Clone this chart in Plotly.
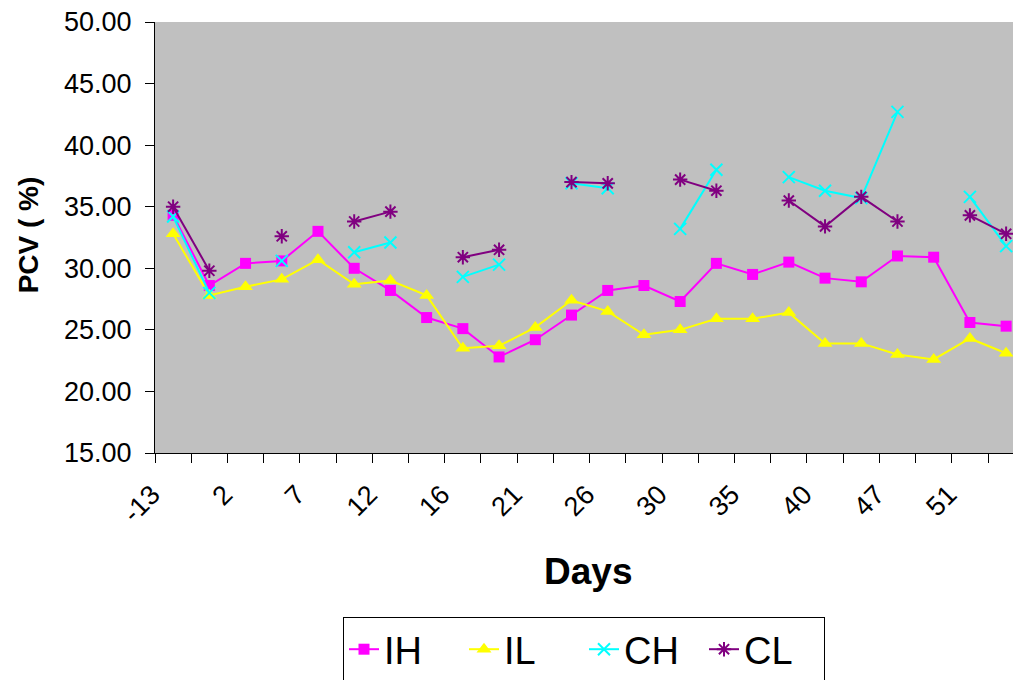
import plotly.graph_objects as go

days = ["-13", "0", "2", "5", "7", "9", "12", "14", "16", "19", "21", "23",
        "26", "28", "30", "33", "35", "37", "40", "44", "47", "49", "51", "54"]
shown_labels = ["-13", "", "2", "", "7", "", "12", "", "16", "", "21", "",
                "26", "", "30", "", "35", "", "40", "", "47", "", "51", ""]

IH = [34.3, 28.6, 30.4, 30.6, 33.0, 30.0, 28.2, 26.0, 25.1, 22.8, 24.2, 26.2,
      28.2, 28.6, 27.3, 30.4, 29.5, 30.5, 29.2, 28.9, 31.0, 30.9, 25.6, 25.3]
IL = [32.8, 27.8, 28.5, 29.1, 30.7, 28.7, 29.0, 27.8, 23.5, 23.7, 25.2, 27.4,
      26.5, 24.6, 25.0, 25.9, 25.9, 26.4, 23.9, 23.9, 23.0, 22.6, 24.3, 23.1]
CH = [34.2, 28.0, None, 30.6, None, 31.3, 32.1, None, 29.3, 30.3, None, 36.9,
      36.5, None, 33.2, 38.0, None, 37.4, 36.3, 35.7, 42.7, None, 35.8, 31.8]
CL = [35.0, 29.8, None, 32.6, None, 33.8, 34.6, None, 30.9, 31.5, None, 37.0,
      36.9, None, 37.2, 36.3, None, 35.5, 33.4, 35.8, 33.8, None, 34.3, 32.8]

FONT = "Arial, Liberation Sans, sans-serif"

fig = go.Figure()
fig.add_trace(go.Scatter(x=days, y=IH, name="IH", mode="lines+markers",
                         line=dict(color="#FF00FF", width=2),
                         marker=dict(symbol="square", size=11, color="#FF00FF")))
fig.add_trace(go.Scatter(x=days, y=IL, name="IL", mode="lines+markers",
                         line=dict(color="#FFFF00", width=2),
                         marker=dict(symbol="triangle-up", size=13, color="#FFFF00")))
fig.add_trace(go.Scatter(x=days, y=CH, name="CH", mode="lines+markers",
                         connectgaps=False,
                         line=dict(color="#00FFFF", width=2),
                         marker=dict(symbol="x-thin-open", size=12, color="#00FFFF",
                                     line=dict(color="#00FFFF", width=2))))
fig.add_trace(go.Scatter(x=days, y=CL, name="CL", mode="lines+markers",
                         connectgaps=False,
                         line=dict(color="#800080", width=2),
                         marker=dict(symbol="asterisk-open", size=12, color="#800080",
                                     line=dict(color="#800080", width=2))))

fig.update_layout(
    width=1013, height=680,
    margin=dict(l=155, r=0, t=22, b=227, autoexpand=False),
    paper_bgcolor="white",
    plot_bgcolor="#C0C0C0",
    font=dict(family=FONT, color="black", size=27),
    showlegend=True,
    legend=dict(orientation="h", xref="container", yref="container",
                x=343 / 1013, y=1 - 617 / 680, xanchor="left", yanchor="top",
                font=dict(size=38, family=FONT), bordercolor="black", borderwidth=1,
                bgcolor="white", entrywidth=75, entrywidthmode="pixels",
                tracegroupgap=0),
    xaxis=dict(type="category", range=[-0.5, 23.19],
               tickmode="array", tickvals=days, ticktext=shown_labels,
               tickson="boundaries", ticks="outside", ticklen=9, tickcolor="black",
               tickangle=-45, showgrid=False, zeroline=False,
               showline=True, linecolor="black", linewidth=1,
               ticklabelshift=-21, ticklabelstandoff=14,
               tickfont=dict(size=27, family=FONT)),
    yaxis=dict(range=[15, 50], dtick=5, tick0=15, tickformat=".2f",
               ticks="outside", ticklen=9, tickcolor="black",
               showgrid=False, zeroline=False,
               showline=True, linecolor="black", linewidth=1,
               ticklabelstandoff=8,
               tickfont=dict(size=27, family=FONT)),
    annotations=[
        dict(text="<b>Days</b>", xref="paper", yref="paper", x=0.505, y=-0.276,
             xanchor="center", yanchor="middle", showarrow=False,
             font=dict(size=37, family=FONT)),
        dict(text="<b>PCV ( %)</b>", xref="paper", yref="paper", x=-0.148, y=0.505,
             xanchor="center", yanchor="middle", showarrow=False, textangle=-90,
             font=dict(size=28, family=FONT)),
    ],
)

fig.write_html("out.html")
